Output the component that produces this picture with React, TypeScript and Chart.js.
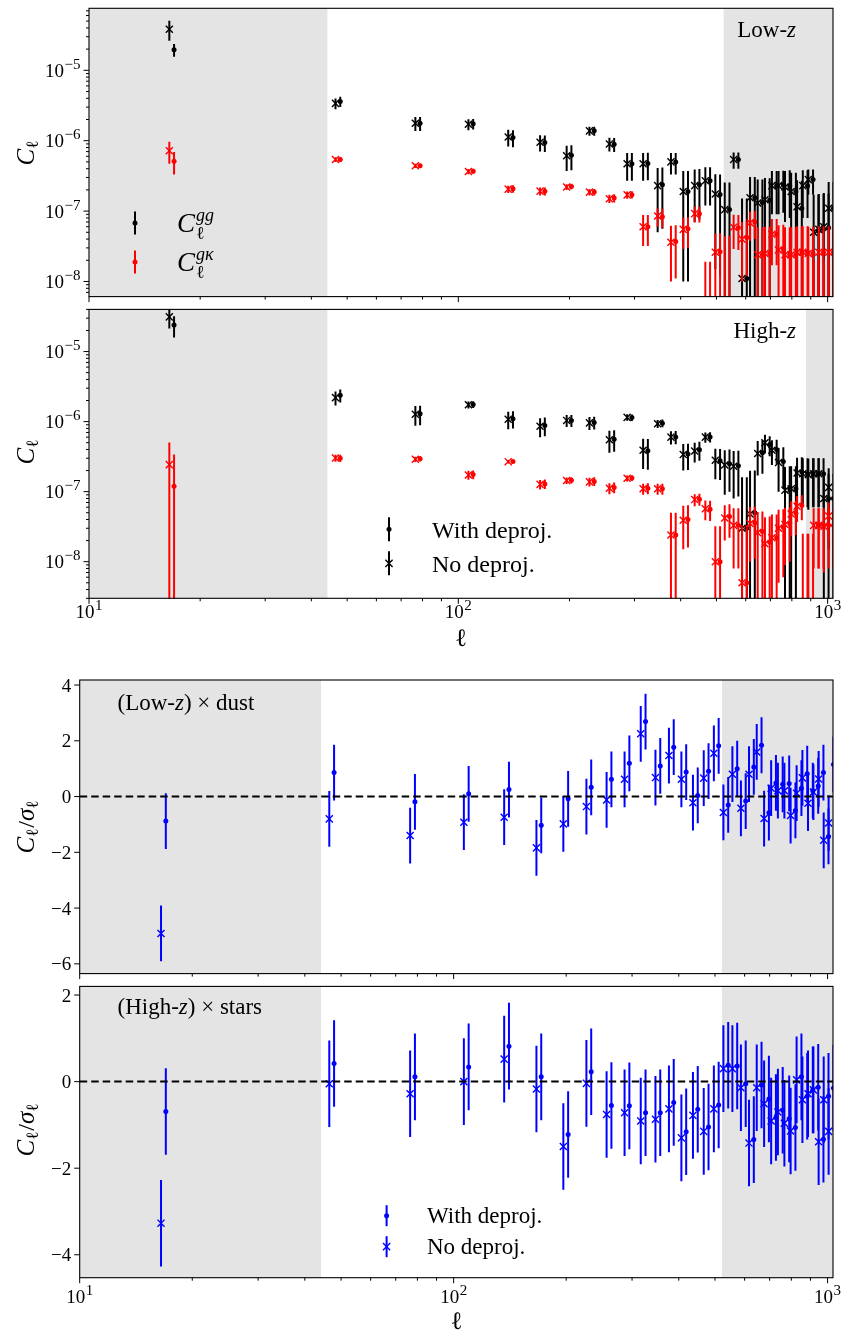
import React, { useEffect, useRef } from "react";
import { Chart, registerables } from "chart.js";

Chart.register(...registerables);

// ---------------- data ----------------
const ELL = [16.5, 46.5, 76.5, 106.5, 136.5, 166.5, 196.5, 226.5, 256.5, 286.5, 316.5, 346.5, 376.5, 406.5, 436.5, 466.5, 496.5, 526.5, 556.5, 586.5, 616.5, 646.5, 676.5, 706.5, 736.5, 766.5, 796.5, 826.5, 856.5, 886.5, 916.5, 946.5, 976.5, 1006.5];

// Low-z  C_l^gg
const LOWZ_GG_DEP = [1.96e-5, 3.61e-6, 1.77e-6, 1.74e-6, 1.11e-6, 9.4e-7, 6.2e-7, 1.38e-6, 8.9e-7, 4.7e-7, 4.75e-7, 2.36e-7, 5.0e-7, 1.9e-7, 2.36e-7, 2.7e-7, 1.72e-7, 1.05e-7, 5.4e-7, 1.1e-8, 1.55e-7, 1.32e-7, 1.42e-7, 2.3e-7, 2.35e-7, 2.3e-7, 1.9e-7, 1.1e-7, 2.3e-7, 2.8e-7, 5.2e-8, 5.5e-8, 5.8e-8, 1.1e-7];
const LOWZ_GG_NODEP = [3.84e-5, 3.39e-6, 1.77e-6, 1.71e-6, 1.13e-6, 9.5e-7, 6.1e-7, 1.38e-6, 9.0e-7, 4.7e-7, 4.7e-7, 2.3e-7, 5.0e-7, 1.9e-7, 2.3e-7, 2.7e-7, 1.75e-7, 1.05e-7, 5.4e-7, 1.1e-8, 1.55e-7, 1.3e-7, 1.45e-7, 2.3e-7, 2.3e-7, 2.2e-7, 1.9e-7, 1.15e-7, 2.3e-7, 2.8e-7, 5.0e-8, 5.5e-8, 6.0e-8, 1.1e-7];
const LOWZ_GG_ERR_DEP = [4.0e-6, 6.0e-7, 4.0e-7, 3.0e-7, 3.0e-7, 2.5e-7, 2.4e-7, 2.0e-7, 2.0e-7, 2.0e-7, 2.0e-7, 1.8e-7, 1.7e-7, 1.8e-7, 1.6e-7, 1.5e-7, 1.6e-7, 1.5e-7, 1.4e-7, 1.4e-7, 1.5e-7, 1.5e-7, 1.5e-7, 1.4e-7, 1.4e-7, 1.5e-7, 1.6e-7, 1.6e-7, 1.5e-7, 1.1e-7, 1.2e-7, 1.2e-7, 1.2e-7, 1.5e-7];
const LOWZ_GG_ERR_NODEP = [1.2e-5, 6.0e-7, 4.0e-7, 3.0e-7, 3.0e-7, 2.5e-7, 2.4e-7, 2.0e-7, 2.0e-7, 2.0e-7, 2.0e-7, 1.8e-7, 1.7e-7, 1.8e-7, 1.6e-7, 1.5e-7, 1.6e-7, 1.5e-7, 1.4e-7, 1.4e-7, 1.5e-7, 1.5e-7, 1.5e-7, 1.4e-7, 1.4e-7, 1.5e-7, 1.6e-7, 1.6e-7, 1.5e-7, 1.1e-7, 1.2e-7, 1.2e-7, 1.2e-7, 1.5e-7];
// Low-z  C_l^gk
const LOWZ_GK_DEP = [5.1e-7, 5.4e-7, 4.4e-7, 3.68e-7, 2.07e-7, 1.92e-7, 2.24e-7, 1.86e-7, 1.53e-7, 1.71e-7, 6.0e-8, 8.3e-8, 3.7e-8, 5.6e-8, 9.2e-8, -3e-9, 2.65e-8, -5e-9, 5.8e-8, 4.2e-8, 7.0e-8, 2.4e-8, 2.5e-8, 4.7e-8, 2.9e-8, 2.4e-8, 2.4e-8, 2.6e-8, 2.6e-8, 2.5e-8, -1e-8, 2.6e-8, -1e-8, 2.6e-8];
const LOWZ_GK_NODEP = [7.2e-7, 5.4e-7, 4.4e-7, 3.65e-7, 2.05e-7, 1.92e-7, 2.2e-7, 1.86e-7, 1.5e-7, 1.7e-7, 6.0e-8, 8.5e-8, 3.6e-8, 5.5e-8, 9.2e-8, -3e-9, 2.6e-8, -6e-9, 5.9e-8, 4.0e-8, 6.8e-8, 2.4e-8, 2.5e-8, 4.7e-8, 2.8e-8, 2.4e-8, 2.4e-8, 2.6e-8, 2.6e-8, 2.5e-8, -1e-8, 2.6e-8, -1e-8, 2.6e-8];
const LOWZ_GK_ERR_DEP = [1.8e-7, 4e-8, 3e-8, 3e-8, 2.5e-8, 2.5e-8, 2e-8, 2e-8, 2e-8, 2e-8, 2.8e-8, 2.5e-8, 2.6e-8, 2.6e-8, 2.3e-8, 2.2e-8, 2.2e-8, 5e-8, 3e-8, 3e-8, 3e-8, 3.5e-8, 3.5e-8, 3e-8, 3.5e-8, 3.5e-8, 3.5e-8, 3.5e-8, 3.5e-8, 3.5e-8, 3e-8, 3.5e-8, 3e-8, 3.5e-8];
const LOWZ_GK_ERR_NODEP = [2.5e-7, 4e-8, 3e-8, 3e-8, 2.5e-8, 2.5e-8, 2e-8, 2e-8, 2e-8, 2e-8, 2.8e-8, 2.5e-8, 2.6e-8, 2.6e-8, 2.3e-8, 2.2e-8, 2.2e-8, 5e-8, 3e-8, 3e-8, 3e-8, 3.5e-8, 3.5e-8, 3e-8, 3.5e-8, 3.5e-8, 3.5e-8, 3.5e-8, 3.5e-8, 3.5e-8, 3e-8, 3.5e-8, 3e-8, 3.5e-8];

// High-z  C_l^gg
const HIGHZ_GG_DEP = [2.39e-5, 2.38e-6, 1.29e-6, 1.76e-6, 1.10e-6, 8.8e-7, 1.04e-6, 9.7e-7, 5.6e-7, 1.14e-6, 3.85e-7, 9.5e-7, 6.05e-7, 3.44e-7, 3.95e-7, 6.05e-7, 2.77e-7, 2.5e-7, 2.35e-7, 3.0e-8, 5.0e-8, 3.6e-7, 4.7e-7, 4.0e-7, 2.7e-7, 1.1e-7, 1.1e-7, 1.9e-7, 1.8e-7, 1.8e-7, 1.8e-7, 1.8e-7, 8.0e-8, 8.0e-8];
const HIGHZ_GG_NODEP = [3.13e-5, 2.2e-6, 1.27e-6, 1.74e-6, 1.08e-6, 8.6e-7, 1.04e-6, 9.6e-7, 5.5e-7, 1.15e-6, 3.9e-7, 9.3e-7, 6.0e-7, 3.4e-7, 3.8e-7, 6.0e-7, 2.8e-7, 2.4e-7, 2.3e-7, 3.0e-8, 4.8e-8, 3.5e-7, 5.0e-7, 3.9e-7, 2.6e-7, 1.05e-7, 1.1e-7, 1.85e-7, 1.8e-7, 1.75e-7, 1.8e-7, 1.8e-7, 8.0e-8, 1.15e-7];
const HIGHZ_GG_ERR_DEP = [8e-6, 5e-7, 4e-7, 2e-7, 3e-7, 2.6e-7, 2e-7, 2e-7, 1.9e-7, 1.2e-7, 1.8e-7, 1.2e-7, 1.3e-7, 1.4e-7, 1.2e-7, 1.0e-7, 1.3e-7, 1.5e-7, 1.5e-7, 1.3e-7, 1.5e-7, 1.8e-7, 1.5e-7, 1.5e-7, 1.6e-7, 1.2e-7, 1.2e-7, 1.2e-7, 1.2e-7, 1.2e-7, 1.2e-7, 1.2e-7, 1.0e-7, 1.0e-7];
const HIGHZ_GG_ERR_NODEP = [1.0e-5, 5e-7, 4e-7, 2e-7, 3e-7, 2.6e-7, 2e-7, 2e-7, 1.9e-7, 1.2e-7, 1.8e-7, 1.2e-7, 1.3e-7, 1.4e-7, 1.2e-7, 1.0e-7, 1.3e-7, 1.5e-7, 1.5e-7, 1.3e-7, 1.5e-7, 1.8e-7, 1.5e-7, 1.5e-7, 1.6e-7, 1.2e-7, 1.2e-7, 1.2e-7, 1.2e-7, 1.2e-7, 1.2e-7, 1.2e-7, 1.0e-7, 1.0e-7];
// High-z  C_l^gk
const HIGHZ_GK_DEP = [1.19e-7, 3.0e-7, 2.95e-7, 1.75e-7, 2.7e-7, 1.29e-7, 1.46e-7, 1.4e-7, 1.15e-7, 1.57e-7, 1.12e-7, 1.1e-7, 2.4e-8, 4.0e-8, 7.8e-8, 5.6e-8, 1.0e-8, 4.4e-8, 3.3e-8, 5e-9, 3.6e-8, 2.7e-8, 1.9e-8, 2.2e-8, 3.1e-8, 3.5e-8, 4.9e-8, 6.4e-8, -5e-9, -5e-9, 3.3e-8, 3.3e-8, 3.3e-8, 3.3e-8];
const HIGHZ_GK_NODEP = [2.43e-7, 3.02e-7, 2.9e-7, 1.73e-7, 2.68e-7, 1.27e-7, 1.44e-7, 1.38e-7, 1.12e-7, 1.55e-7, 1.1e-7, 1.1e-7, 2.4e-8, 3.9e-8, 7.7e-8, 5.7e-8, 1.0e-8, 4.2e-8, 3.3e-8, 5e-9, 3.5e-8, 2.6e-8, 1.8e-8, 2.2e-8, 3.0e-8, 3.4e-8, 4.8e-8, 6.2e-8, -5e-9, -5e-9, 3.3e-8, 3.3e-8, 3.2e-8, 4.5e-8];
const HIGHZ_GK_ERR_DEP = [2.2e-7, 3.5e-8, 2.5e-8, 2.5e-8, 1.5e-8, 2e-8, 1.5e-8, 2e-8, 2e-8, 1.5e-8, 2e-8, 2e-8, 2.6e-8, 2.4e-8, 1.5e-8, 1.8e-8, 2.2e-8, 2.2e-8, 2.5e-8, 2.8e-8, 2.5e-8, 2.5e-8, 2.5e-8, 2.5e-8, 2.5e-8, 2.5e-8, 2.5e-8, 2.5e-8, 3e-8, 3e-8, 2.5e-8, 2.5e-8, 2.5e-8, 2.5e-8];
const HIGHZ_GK_ERR_NODEP = [2.6e-7, 3.5e-8, 2.5e-8, 2.5e-8, 1.5e-8, 2e-8, 1.5e-8, 2e-8, 2e-8, 1.5e-8, 2e-8, 2e-8, 2.6e-8, 2.4e-8, 1.5e-8, 1.8e-8, 2.2e-8, 2.2e-8, 2.5e-8, 2.8e-8, 2.5e-8, 2.5e-8, 2.5e-8, 2.5e-8, 2.5e-8, 2.5e-8, 2.5e-8, 2.5e-8, 3e-8, 3e-8, 2.5e-8, 2.5e-8, 2.5e-8, 2.5e-8];

// (Low-z) x dust :  C_l / sigma_l
const DUST_DEP = [-0.88, 0.86, -0.19, 0.10, 0.25, -1.03, -0.08, 0.33, 0.62, 1.19, 2.69, 1.10, 1.77, 0.88, 0.04, 0.91, 1.82, -0.30, 1.00, -0.16, 1.06, 1.84, -0.58, 0.49, 0.44, 0.47, -0.50, 0.30, 0.82, 0.21, 0.38, 0.86, -1.43, 1.15];
const DUST_NODEP = [-4.91, -0.80, -1.40, -0.92, -0.74, -1.84, -0.98, -0.36, -0.12, 0.62, 2.25, 0.68, 1.47, 0.62, -0.22, 0.66, 1.55, -0.57, 0.80, -0.42, 0.80, 1.60, -0.79, 0.30, 0.21, 0.21, -0.68, 0.12, 0.67, -0.24, 0.16, 0.63, -1.57, -0.95];
// (High-z) x stars
const STARS_DEP = [-0.69, 0.42, 0.11, 0.34, 0.82, 0.11, -1.22, 0.23, -0.55, -0.56, -0.72, -0.72, -0.48, -1.16, -0.64, -1.05, -0.54, 0.38, 0.36, -0.05, -1.34, -0.08, -0.40, -0.83, -0.66, -0.86, -1.06, 0.11, -0.34, -0.19, -0.13, -1.33, -0.34, -0.15];
const STARS_NODEP = [-3.27, -0.05, -0.28, 0.0, 0.52, -0.17, -1.50, -0.04, -0.76, -0.72, -0.91, -0.87, -0.63, -1.30, -0.78, -1.15, -0.63, 0.30, 0.30, -0.14, -1.42, -0.14, -0.51, -0.91, -0.70, -0.96, -1.14, 0.04, -0.42, -0.28, -0.19, -1.39, -0.42, -1.15];
const RATIO_ERR = 1;

// axis / region settings
const X_MIN = 10;
const X_MAX = 1034;
const X_MAJOR = [10, 100, 1000];
const X_MINOR = [20, 30, 40, 50, 60, 70, 80, 90, 200, 300, 400, 500, 600, 700, 800, 900];
const L_CUT_LOW = 44.2;
const L_CUT_LOWZ = 523;
const L_CUT_HIGHZ = 873;
const L_CUT_SYS = 522;
const DOT_SHIFT = 1.03;

const BLACK = "#000000";
const RED = "#ff0000";
const BLUE = "#0000ff";
const SHADE = "#e4e4e4";
const FAMILY = '"Liberation Serif", "DejaVu Serif", serif';
const TICK_FS = 19;
const SUP_FS = 15;
const TEXT_FS = 23;
const LEG_FS = 24;

const font = (s: number, i = false) => `${i ? "italic " : ""}${s}px ${FAMILY}`;

type Run = { t: string; s: number; i?: boolean; dy?: number; dx?: number; noAdv?: boolean };

function runsWidth(ctx: any, runs: Run[]) {
  let w = 0;
  for (const r of runs) {
    ctx.font = font(r.s, r.i);
    if (!r.noAdv) w += ctx.measureText(r.t).width + (r.dx || 0);
  }
  return w;
}

function drawRuns(ctx: any, runs: Run[], x: number, y: number, align: string, color = "#000") {
  const w = runsWidth(ctx, runs);
  let cx = align === "left" ? x : align === "center" ? x - w / 2 : x - w;
  ctx.fillStyle = color;
  ctx.textAlign = "left";
  ctx.textBaseline = "alphabetic";
  for (const r of runs) {
    ctx.font = font(r.s, r.i);
    ctx.fillText(r.t, cx + (r.dx || 0), y + (r.dy || 0));
    if (!r.noAdv) cx += ctx.measureText(r.t).width + (r.dx || 0);
  }
}

function rotatedRuns(ctx: any, runs: Run[], x: number, cy: number) {
  ctx.save();
  ctx.translate(x, cy);
  ctx.rotate(-Math.PI / 2);
  drawRuns(ctx, runs, 0, 0, "center");
  ctx.restore();
}

function logTicks(min: number, max: number) {
  const major: number[] = [];
  const minor: number[] = [];
  for (let e = Math.floor(Math.log10(min)); e <= Math.ceil(Math.log10(max)); e++) {
    for (let m = 1; m <= 9; m++) {
      const v = m * Math.pow(10, e);
      if (v < min || v > max) continue;
      (m === 1 ? major : minor).push(v);
    }
  }
  return { major, minor };
}

function glyph(ctx: any, x: number, y: number, color: string, kind: string, half: number) {
  ctx.strokeStyle = color;
  ctx.fillStyle = color;
  ctx.lineWidth = 2;
  ctx.beginPath();
  ctx.moveTo(x, y - half);
  ctx.lineTo(x, y + half);
  ctx.stroke();
  if (kind === "dot") {
    ctx.beginPath();
    ctx.arc(x, y, 2.5, 0, Math.PI * 2);
    ctx.fill();
  } else {
    const d = 3.6;
    ctx.lineWidth = 1.4;
    ctx.beginPath();
    ctx.moveTo(x - d, y - d);
    ctx.lineTo(x + d, y + d);
    ctx.moveTo(x + d, y - d);
    ctx.lineTo(x - d, y + d);
    ctx.stroke();
  }
}

const C_ELL: Run[] = [
  { t: "C", s: 25, i: true },
  { t: "ℓ", s: 17, dy: 4 },
];
const C_OVER_SIGMA: Run[] = [
  { t: "C", s: 25, i: true },
  { t: "ℓ", s: 17, dy: 4 },
  { t: "/", s: 24, dx: 1 },
  { t: "σ", s: 25, i: true },
  { t: "ℓ", s: 17, dy: 4 },
];

// ---------------- panel decorations (page coordinates) ----------------
function decoP1(ctx: any) {
  rotatedRuns(ctx, C_ELL, 34, 153);
  drawRuns(ctx, [{ t: "Low-", s: TEXT_FS }, { t: "z", s: TEXT_FS, i: true }], 796, 36.5, "right");
  glyph(ctx, 135, 223, BLACK, "dot", 11.5);
  glyph(ctx, 135, 262, RED, "dot", 11.5);
  drawRuns(ctx, [{ t: "C", s: 27, i: true }, { t: "gg", s: 18, i: true, dy: -11, dx: 1, noAdv: true }, { t: "ℓ", s: 18, dy: 7, dx: 1 }], 177, 232, "left");
  drawRuns(ctx, [{ t: "C", s: 27, i: true }, { t: "gκ", s: 18, i: true, dy: -11, dx: 1, noAdv: true }, { t: "ℓ", s: 18, dy: 7, dx: 1 }], 177, 271, "left");
}
function decoP2(ctx: any) {
  rotatedRuns(ctx, C_ELL, 34, 452);
  drawRuns(ctx, [{ t: "High-", s: TEXT_FS }, { t: "z", s: TEXT_FS, i: true }], 796, 337.5, "right");
  glyph(ctx, 389, 529.3, BLACK, "dot", 12);
  glyph(ctx, 389, 563.3, BLACK, "cross", 12);
  drawRuns(ctx, [{ t: "With deproj.", s: LEG_FS }], 432, 537.5, "left");
  drawRuns(ctx, [{ t: "No deproj.", s: LEG_FS }], 432, 571.5, "left");
  drawRuns(ctx, [{ t: "ℓ", s: 25 }], 461, 646, "center");
}
function decoP3(ctx: any) {
  rotatedRuns(ctx, C_OVER_SIGMA, 34, 827);
  drawRuns(ctx, [{ t: "(Low-", s: TEXT_FS }, { t: "z", s: TEXT_FS, i: true }, { t: ") × dust", s: TEXT_FS }], 117.5, 709.5, "left");
}
function decoP4(ctx: any) {
  rotatedRuns(ctx, C_OVER_SIGMA, 34, 1130);
  drawRuns(ctx, [{ t: "(High-", s: TEXT_FS }, { t: "z", s: TEXT_FS, i: true }, { t: ") × stars", s: TEXT_FS }], 117.5, 1013.5, "left");
  glyph(ctx, 386.6, 1215.7, BLUE, "dot", 10.5);
  glyph(ctx, 386.6, 1246.7, BLUE, "cross", 10.5);
  drawRuns(ctx, [{ t: "With deproj.", s: 23 }], 427, 1223, "left");
  drawRuns(ctx, [{ t: "No deproj.", s: 23 }], 427, 1254, "left");
  drawRuns(ctx, [{ t: "ℓ", s: 25 }], 456.5, 1328.5, "center");
}

const PANELS: any[] = [
  {
    key: "p1", top: 0, height: 303, area: { left: 89, right: 833, top: 8.3, bottom: 298.3 },
    yLog: true, yMin: 6.1e-9, yMax: 7.6e-5, shade: [[X_MIN, L_CUT_LOW], [L_CUT_LOWZ, 5000]],
    series: [
      { vals: LOWZ_GG_NODEP, errs: LOWZ_GG_ERR_NODEP, color: BLACK, kind: "cross" },
      { vals: LOWZ_GG_DEP, errs: LOWZ_GG_ERR_DEP, color: BLACK, kind: "dot" },
      { vals: LOWZ_GK_NODEP, errs: LOWZ_GK_ERR_NODEP, color: RED, kind: "cross" },
      { vals: LOWZ_GK_DEP, errs: LOWZ_GK_ERR_DEP, color: RED, kind: "dot" },
    ],
    xLabelBase: null, deco: decoP1,
  },
  {
    key: "p2", top: 303, height: 357, area: { left: 89, right: 833, top: 307.3, bottom: 598.3 },
    yLog: true, yMin: 3.0e-9, yMax: 4.0e-5, shade: [[X_MIN, L_CUT_LOW], [L_CUT_HIGHZ, 5000]],
    series: [
      { vals: HIGHZ_GG_NODEP, errs: HIGHZ_GG_ERR_NODEP, color: BLACK, kind: "cross" },
      { vals: HIGHZ_GG_DEP, errs: HIGHZ_GG_ERR_DEP, color: BLACK, kind: "dot" },
      { vals: HIGHZ_GK_NODEP, errs: HIGHZ_GK_ERR_NODEP, color: RED, kind: "cross" },
      { vals: HIGHZ_GK_DEP, errs: HIGHZ_GK_ERR_DEP, color: RED, kind: "dot" },
    ],
    xLabelBase: 618, deco: decoP2,
  },
  {
    key: "p3", top: 660, height: 320, area: { left: 79.7, right: 833, top: 680, bottom: 974 },
    yLog: false, yMin: -6.35, yMax: 4.18, yTicks: [-6, -4, -2, 0, 2, 4], shade: [[X_MIN, L_CUT_LOW], [L_CUT_SYS, 5000]],
    series: [
      { vals: DUST_NODEP, errs: RATIO_ERR, color: BLUE, kind: "cross" },
      { vals: DUST_DEP, errs: RATIO_ERR, color: BLUE, kind: "dot" },
    ],
    xLabelBase: null, zero: true, deco: decoP3,
  },
  {
    key: "p4", top: 980, height: 351, area: { left: 79.7, right: 833, top: 982.3, bottom: 1277.7 },
    yLog: false, yMin: -4.53, yMax: 2.2, yTicks: [-4, -2, 0, 2], shade: [[X_MIN, L_CUT_LOW], [L_CUT_SYS, 5000]],
    series: [
      { vals: STARS_NODEP, errs: RATIO_ERR, color: BLUE, kind: "cross" },
      { vals: STARS_DEP, errs: RATIO_ERR, color: BLUE, kind: "dot" },
    ],
    xLabelBase: 1303, zero: true, deco: decoP4,
  },
];

function minusStr(v: number) {
  return v < 0 ? "\u2212" + Math.abs(v) : String(v);
}

function makePlugin(p: any) {
  return {
    id: "custom_" + p.key,
    beforeDatasetsDraw(chart: any) {
      const { ctx, chartArea: a, scales } = chart;
      const xs = scales.x;
      ctx.save();
      ctx.fillStyle = SHADE;
      for (const [lo, hi] of p.shade) {
        const x0 = Math.max(a.left, xs.getPixelForValue(lo));
        const x1 = Math.min(a.right, xs.getPixelForValue(hi));
        if (x1 > x0) ctx.fillRect(x0, a.top, x1 - x0, a.bottom - a.top);
      }
      ctx.restore();
    },
    beforeDatasetDraw(chart: any, args: any) {
      const { ctx, chartArea: a, scales } = chart;
      const ds = chart.data.datasets[args.index];
      const xs = scales.x;
      const ys = scales.y;
      ctx.save();
      ctx.beginPath();
      ctx.rect(a.left, a.top, a.right - a.left, a.bottom - a.top);
      ctx.clip();
      ctx.strokeStyle = ds.barColor;
      ctx.lineWidth = 2;
      ds.vals.forEach((v: number, i: number) => {
        const e = typeof ds.errs === "number" ? ds.errs : ds.errs[i];
        const hi = v + e;
        const lo = v - e;
        if (p.yLog && hi <= 0) return;
        const px = xs.getPixelForValue(ds.data[i].x);
        const yHi = ys.getPixelForValue(hi);
        const yLo = !p.yLog || lo > 0 ? ys.getPixelForValue(lo) : a.bottom + 50;
        ctx.beginPath();
        ctx.moveTo(px, yHi);
        ctx.lineTo(px, yLo);
        ctx.stroke();
      });
      ctx.restore();
    },
    afterDatasetsDraw(chart: any) {
      const { ctx, chartArea: a, scales } = chart;
      const xs = scales.x;
      const ys = scales.y;
      ctx.save();
      if (p.zero) {
        const y0 = ys.getPixelForValue(0);
        ctx.strokeStyle = "#000";
        ctx.lineWidth = 2;
        ctx.setLineDash([7.5, 4]);
        ctx.beginPath();
        ctx.moveTo(a.left, y0);
        ctx.lineTo(a.right, y0);
        ctx.stroke();
        ctx.setLineDash([]);
      }
      // frame
      ctx.strokeStyle = "#000";
      ctx.lineWidth = 1.1;
      ctx.strokeRect(a.left, a.top, a.right - a.left, a.bottom - a.top);
      // x ticks
      ctx.lineWidth = 1;
      const tick = (x0: number, y0: number, x1: number, y1: number) => {
        ctx.beginPath();
        ctx.moveTo(x0, y0);
        ctx.lineTo(x1, y1);
        ctx.stroke();
      };
      for (const v of X_MAJOR) {
        const px = xs.getPixelForValue(v);
        tick(px, a.bottom, px, a.bottom + 5.5);
      }
      for (const v of X_MINOR) {
        const px = xs.getPixelForValue(v);
        tick(px, a.bottom, px, a.bottom + 3);
      }
      // y ticks + labels
      if (p.yLog) {
        const { major, minor } = logTicks(p.yMin, p.yMax);
        for (const v of minor) {
          const py = ys.getPixelForValue(v);
          tick(a.left - 3, py, a.left, py);
        }
        for (const v of major) {
          const py = ys.getPixelForValue(v);
          tick(a.left - 5.5, py, a.left, py);
          const e = Math.round(Math.log10(v));
          drawRuns(ctx, [{ t: "10", s: TICK_FS }, { t: minusStr(e), s: SUP_FS, dy: -8, dx: 0.5 }], a.left - 8.5, py + 6.5, "right");
        }
      } else {
        for (const v of p.yTicks) {
          const py = ys.getPixelForValue(v);
          tick(a.left - 5.5, py, a.left, py);
          drawRuns(ctx, [{ t: minusStr(v), s: TICK_FS }], a.left - 8.5, py + 6.5, "right");
        }
      }
      ctx.restore();
      // page-coordinate decorations
      ctx.save();
      ctx.translate(0, -p.top);
      if (p.xLabelBase) {
        for (const v of X_MAJOR) {
          const px = xs.getPixelForValue(v);
          const e = Math.round(Math.log10(v));
          drawRuns(ctx, [{ t: "10", s: TICK_FS }, { t: String(e), s: SUP_FS, dy: -8, dx: 0.5 }], px, p.xLabelBase, "center");
        }
      }
      p.deco(ctx);
      ctx.restore();
    },
  };
}

function Panel({ p }: { p: any }) {
  const ref = useRef<HTMLCanvasElement | null>(null);
  useEffect(() => {
    const canvas = ref.current;
    if (!canvas) return;
    const pad = {
      left: p.area.left,
      right: 844 - p.area.right,
      top: p.area.top - p.top,
      bottom: p.top + p.height - p.area.bottom,
    };
    // z-order: Chart.js draws the first dataset on top, so reverse
    const datasets = p.series
      .slice()
      .reverse()
      .map((s: any) => ({
        type: "scatter",
        data: ELL.map((l, i) => ({
          x: s.kind === "dot" ? l * DOT_SHIFT : l,
          y: p.yLog && s.vals[i] <= 0 ? null : s.vals[i],
        })),
        vals: s.vals,
        errs: s.errs,
        barColor: s.color,
        showLine: false,
        clip: 0,
        pointStyle: s.kind === "dot" ? "circle" : "crossRot",
        pointRadius: s.kind === "dot" ? 2.5 : 5,
        pointHoverRadius: s.kind === "dot" ? 2.5 : 5,
        pointBackgroundColor: s.color,
        pointBorderColor: s.color,
        pointBorderWidth: s.kind === "dot" ? 0 : 1.4,
      }));
    const chart = new Chart(canvas, {
      type: "scatter",
      data: { datasets },
      options: {
        animation: false,
        responsive: false,
        maintainAspectRatio: false,
        devicePixelRatio: 1,
        events: [],
        layout: { padding: pad },
        plugins: { legend: { display: false }, tooltip: { enabled: false } },
        scales: {
          x: { type: "logarithmic", min: X_MIN, max: X_MAX, display: false, bounds: "data" },
          y: p.yLog
            ? { type: "logarithmic", min: p.yMin, max: p.yMax, display: false, bounds: "data" }
            : { type: "linear", min: p.yMin, max: p.yMax, display: false, bounds: "data" },
        },
      } as any,
      plugins: [makePlugin(p)],
    } as any);
    return () => chart.destroy();
  }, []);
  return (
    <canvas
      ref={ref}
      width={844}
      height={p.height}
      style={{ position: "absolute", left: 0, top: p.top, width: 844, height: p.height, display: "block" }}
    />
  );
}

export default function App() {
  return (
    <div style={{ position: "absolute", left: 0, top: 0, width: 844, height: 1331, background: "#ffffff", overflow: "hidden" }}>
      {PANELS.map((p) => (
        <Panel key={p.key} p={p} />
      ))}
    </div>
  );
}
